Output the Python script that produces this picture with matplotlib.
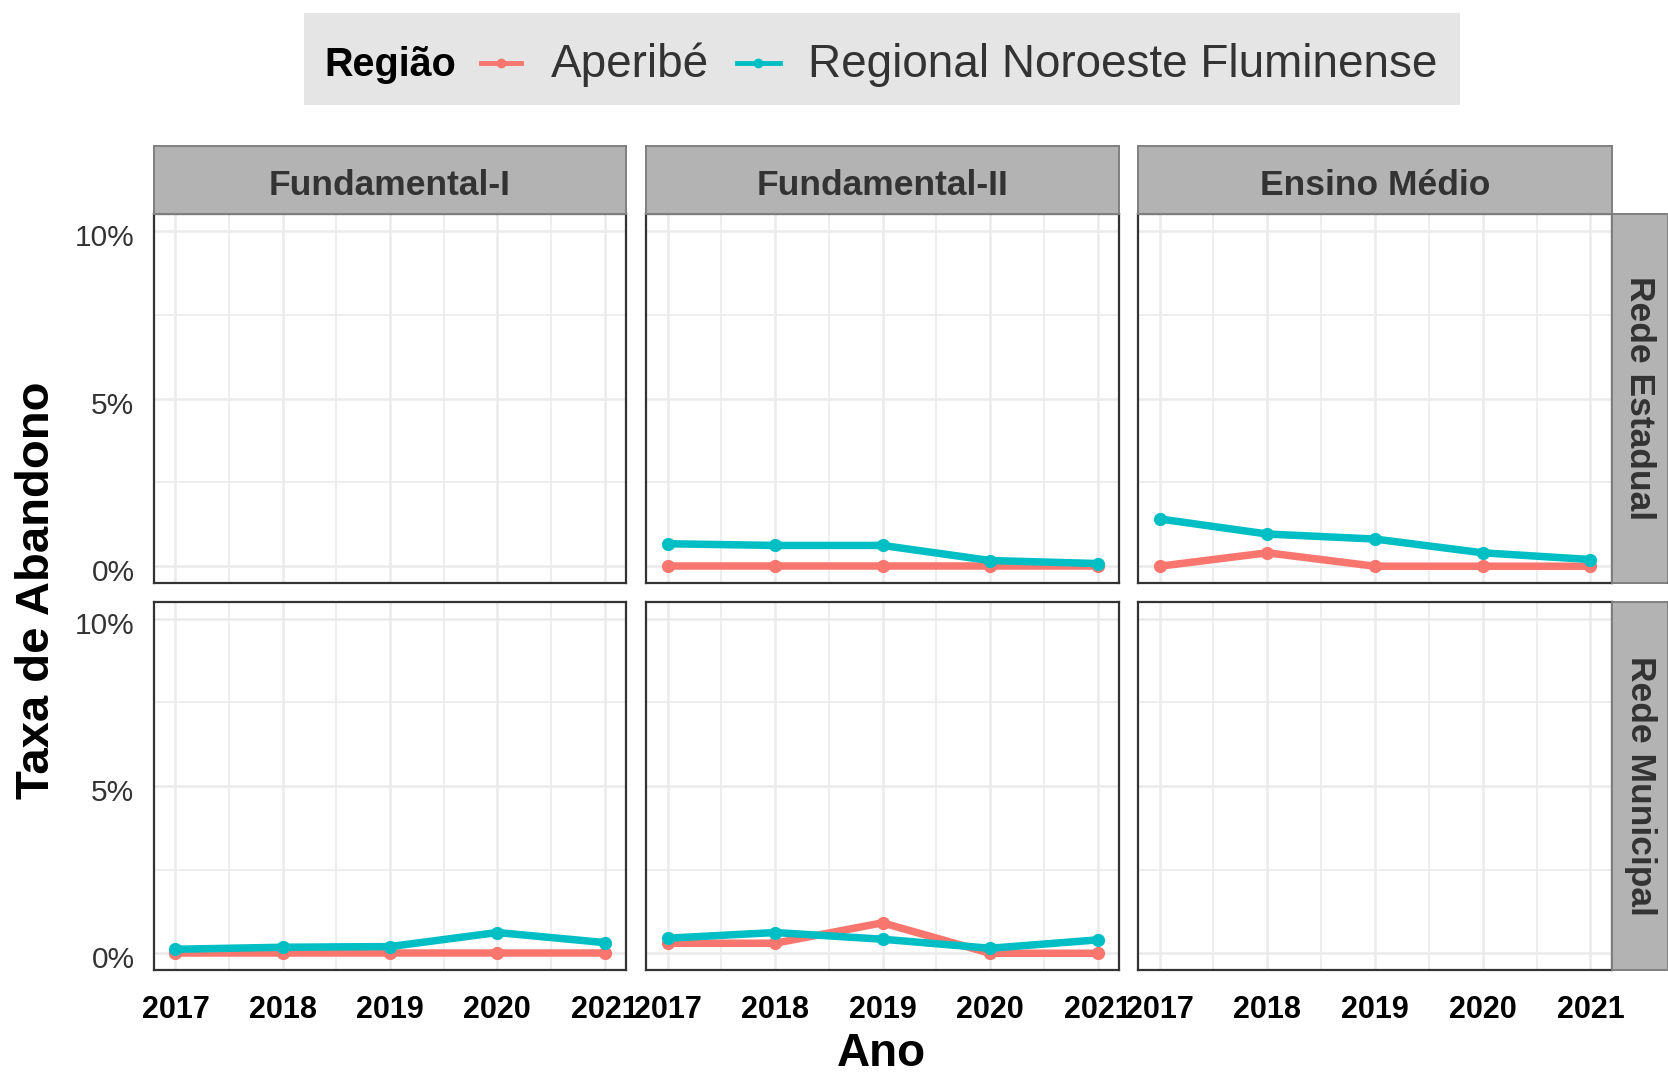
import matplotlib
matplotlib.use("Agg")
import matplotlib.pyplot as plt
import matplotlib.transforms as mtransforms
from matplotlib.patches import Rectangle
from matplotlib.lines import Line2D

plt.rcParams['font.family'] = ['Liberation Sans', 'DejaVu Sans']

# dados (taxa de abandono em %)
anos = [2017, 2018, 2019, 2020, 2021]
etapas = ['Fundamental-I', 'Fundamental-II', 'Ensino Médio']
redes = ['Rede Estadual', 'Rede Municipal']
regioes = ['Aperibé', 'Regional Noroeste Fluminense']
cores = ['#F8766D', '#00BFC4']

aperibe_estadual = {
    'Fundamental-II': [0.0, 0.0, 0.0, 0.0, 0.0],
    'Ensino Médio': [0.0, 0.40, 0.0, 0.0, 0.0],
}
regional_estadual = {
    'Fundamental-II': [0.67, 0.62, 0.62, 0.17, 0.08],
    'Ensino Médio': [1.41, 0.96, 0.81, 0.40, 0.20],
}
aperibe_municipal = {
    'Fundamental-I': [0.0, 0.0, 0.0, 0.0, 0.0],
    'Fundamental-II': [0.30, 0.30, 0.91, 0.0, 0.0],
}
regional_municipal = {
    'Fundamental-I': [0.12, 0.18, 0.20, 0.62, 0.32],
    'Fundamental-II': [0.45, 0.62, 0.42, 0.15, 0.40],
}
dados = {
    'Rede Estadual': [aperibe_estadual, regional_estadual],
    'Rede Municipal': [aperibe_municipal, regional_municipal],
}

W, H = 1668, 1076
fig = plt.figure(figsize=(W / 100, H / 100), dpi=100)


def fbox(x0, y0, x1, y1):
    # pixels (origem em cima) -> coordenadas da figura
    return [x0 / W, 1 - y1 / H, (x1 - x0) / W, (y1 - y0) / H]


col_x = [(154, 626), (646, 1119), (1138, 1612)]
row_y = [(214, 583), (602, 970)]
strip_top = 146
strip_right = (1612, 1668)

strip_bg = '#B3B3B3'
strip_edge = '#7F7F7F'
texto = '#333333'
desce = mtransforms.ScaledTranslation(0, -4 / 100, fig.dpi_scale_trans)

for r, rede in enumerate(redes):
    for c, etapa in enumerate(etapas):
        x0, x1 = col_x[c]
        y0, y1 = row_y[r]
        ax = fig.add_axes(fbox(x0, y0, x1, y1))
        ax.set_facecolor('white')
        for i, regiao in enumerate(regioes):
            serie = dados[rede][i].get(etapa)
            if serie is None:
                continue
            ax.plot(anos, serie, color=cores[i], lw=5.4, marker='o', ms=8.5,
                    solid_capstyle='butt', zorder=3)
        ax.set_xlim(2016.8, 2021.2)
        ax.set_ylim(-0.5, 10.5)
        ax.set_xticks(anos)
        ax.set_xticks([2017.5, 2018.5, 2019.5, 2020.5], minor=True)
        ax.set_yticks([0, 5, 10])
        ax.set_yticks([2.5, 7.5], minor=True)
        ax.grid(True, which='major', color='#EBEBEB', lw=1.8, zorder=0)
        ax.grid(True, which='minor', color='#EBEBEB', lw=1.2, zorder=0)
        ax.tick_params(which='both', length=0)
        if c == 0:
            ax.set_yticklabels(['0%', '5%', '10%'], fontsize=21.5, color=texto)
            ax.tick_params(axis='y', pad=14)
            for lab in ax.get_yticklabels():
                lab.set_transform(lab.get_transform() + desce)
        else:
            ax.set_yticklabels([])
        if r == 1:
            ax.set_xticklabels([str(a) for a in anos], fontsize=22,
                               fontweight='bold', color='black')
            ax.tick_params(axis='x', pad=18)
        else:
            ax.set_xticklabels([])
        for s in ax.spines.values():
            s.set_color('#333333')
            s.set_linewidth(1.6)

        # faixa superior
        if r == 0:
            sax = fig.add_axes(fbox(x0, strip_top, x1, y0))
            sax.set_facecolor(strip_bg)
            sax.set_xticks([])
            sax.set_yticks([])
            for s in sax.spines.values():
                s.set_color(strip_edge)
                s.set_linewidth(1.4)
            sax.text(0.5, 0.42, etapa, transform=sax.transAxes, ha='center',
                     va='center', fontsize=25.5, fontweight='bold', color=texto)

    # faixa lateral
    y0, y1 = row_y[r]
    rax = fig.add_axes(fbox(strip_right[0], y0, strip_right[1], y1))
    rax.set_facecolor(strip_bg)
    rax.set_xticks([])
    rax.set_yticks([])
    for s in rax.spines.values():
        s.set_color(strip_edge)
        s.set_linewidth(1.4)
    rax.text(0.5, 0.5, rede, transform=rax.transAxes, ha='center', va='center',
             rotation=270, fontsize=25.5, fontweight='bold', color=texto)

# títulos dos eixos
fig.text(37 / W, 1 - 590 / H, 'Taxa de Abandono', rotation=90, ha='center',
         va='center', fontsize=34, fontweight='bold', color='black')
fig.text(881 / W, 1 - 1066 / H, 'Ano', ha='center', va='baseline', fontsize=33,
         fontweight='bold', color='black')

# legenda
lax = fig.add_axes([0, 0, 1, 1], zorder=-1)
lax.set_xlim(0, W)
lax.set_ylim(H, 0)
lax.axis('off')
lax.add_patch(Rectangle((304, 13), 1460 - 304, 105 - 13, facecolor='#E5E5E5',
                        edgecolor='none'))
ly = 65
lax.text(324, ly, 'Região', ha='left', va='center', fontsize=28.5,
         fontweight='bold', color='black')
keys = [(481, 521, 551), (737, 780, 808)]
for (k0, k1, tx), cor, nome in zip(keys, cores, regioes):
    lax.add_line(Line2D([k0, k1], [ly - 2, ly - 2], color=cor, lw=3.5))
    lax.add_line(Line2D([(k0 + k1) / 2], [ly - 2], color=cor, marker='o', ms=6))
    lax.text(tx, ly, nome, ha='left', va='center', fontsize=33, color=texto)

fig.savefig('out.png', dpi=100, facecolor='white')
